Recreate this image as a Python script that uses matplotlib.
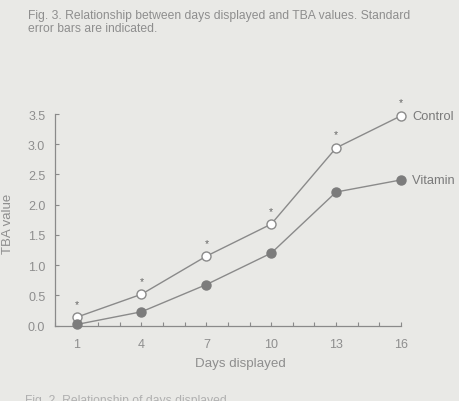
import matplotlib
matplotlib.use("Agg")
import matplotlib.pyplot as plt
from matplotlib.ticker import MultipleLocator, FixedLocator

days = [1, 4, 7, 10, 13, 16]
control = [0.14, 0.52, 1.15, 1.68, 2.94, 3.47]
vitamin_e = [0.02, 0.23, 0.68, 1.20, 2.21, 2.41]
x_ticks = [1, 4, 7, 10, 13, 16]
y_ticks = [0.0, 0.5, 1.0, 1.5, 2.0, 2.5, 3.0, 3.5]
series_names = ["Control", "Vitamin E"]

bg = "#e9e9e6"
ink = "#8e8e8e"
line_c = "#8a8a8a"
fill_c = "#7c7c7c"

plt.rcParams['font.family'] = ['Liberation Sans', 'DejaVu Sans']

fig = plt.figure(figsize=(4.6, 4.02), dpi=100, facecolor=bg)
ax = fig.add_axes([55/460, (402-326.7)/402, 346/460, (326.7-115)/402])
ax.set_facecolor(bg)

ax.plot(days, control, color=line_c, lw=1.0, marker='o', ms=6.5,
        mfc='white', mec=line_c, mew=1.0, clip_on=False, zorder=3)
ax.plot(days, vitamin_e, color=line_c, lw=1.0, marker='o', ms=6.5,
        mfc=fill_c, mec=fill_c, mew=1.0, clip_on=False, zorder=3)

for d, v in zip(days, control):
    ax.annotate("*", (d, v), xytext=(0, 6), textcoords='offset points',
                ha='center', va='bottom', fontsize=7.5, color="#666666")

ax.annotate(series_names[0], (days[-1], control[-1]), xytext=(8, 0),
            textcoords='offset points', ha='left', va='center',
            fontsize=9.3, color="#7a7a7a", annotation_clip=False)
ax.annotate(series_names[1], (days[-1], vitamin_e[-1]), xytext=(8, 0),
            textcoords='offset points', ha='left', va='center',
            fontsize=9.3, color="#7a7a7a", annotation_clip=False)

ax.set_xlim(0, 16)
ax.set_ylim(0, 3.5)
ax.xaxis.set_major_locator(FixedLocator(x_ticks))
ax.xaxis.set_minor_locator(MultipleLocator(1))
ax.yaxis.set_major_locator(FixedLocator(y_ticks))
ax.set_yticklabels([f"{v:.1f}" for v in y_ticks])
ax.tick_params(axis='both', which='both', direction='in', length=3, width=0.8,
               color=line_c, labelcolor=ink, labelsize=9)
ax.tick_params(axis='x', pad=9)
ax.tick_params(axis='y', pad=7)
for s in ['top', 'right']:
    ax.spines[s].set_visible(False)
for s in ['left', 'bottom']:
    ax.spines[s].set_color(line_c)
    ax.spines[s].set_linewidth(0.9)

fig.text(240/460, 1 - 364/402, "Days displayed", ha='center', va='center',
         fontsize=9.6, color=ink)
fig.text(8/460, 1 - 224/402, "TBA value", ha='center', va='center',
         rotation=90, fontsize=9.5, color=ink)

fig.text(28/460, 1 - 16/402,
         "Fig. 3. Relationship between days displayed and TBA values. Standard",
         ha='left', va='center', fontsize=8.7, color=ink)
fig.text(28/460, 1 - 29/402, "error bars are indicated.",
         ha='left', va='center', fontsize=8.7, color=ink)
fig.text(25/460, 1 - 401/402, "Fig. 2. Relationship of days displayed",
         ha='left', va='center', fontsize=8.7, color="#b0b0b0")

fig.savefig("out.png", dpi=100, facecolor=bg)
